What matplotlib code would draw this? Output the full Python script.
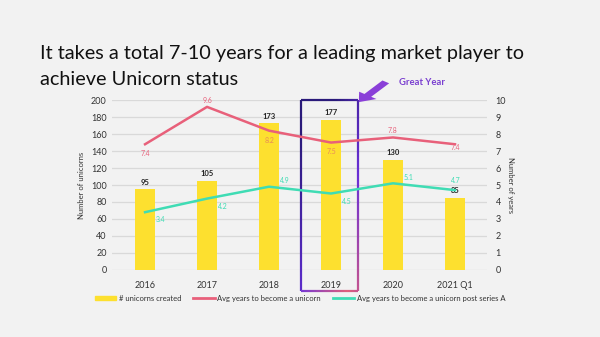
import numpy as np
import matplotlib.pyplot as plt
from matplotlib.collections import LineCollection
from matplotlib.colors import LinearSegmentedColormap
from matplotlib.lines import Line2D
from matplotlib.patches import Patch, FancyArrow

years = ["2016", "2017", "2018", "2019", "2020", "2021 Q1"]
unicorns = [95, 105, 173, 177, 130, 85]
avg_years = [7.4, 9.6, 8.2, 7.5, 7.8, 7.4]
avg_years_post_a = [3.4, 4.2, 4.9, 4.5, 5.1, 4.7]

bg = "#f2f2f2"
yellow = "#fde02f"
red = "#e8607a"
teal = "#3fdcb4"
grid_c = "#d9d9d9"
txt = "#333333"

plt.rcParams["font.family"] = ["Lato", "DejaVu Sans"]

fig = plt.figure(figsize=(6, 3.37), dpi=100, facecolor=bg)
ax = fig.add_axes([0.187, 0.199, 0.625, 0.504], facecolor=bg)
ax2 = ax.twinx()

x = np.arange(len(years))
ax.bar(x, unicorns, width=0.33, color=yellow, zorder=2)
for xi, v in zip(x, unicorns):
    ax.text(xi, v + 4, str(v), ha="center", va="bottom", fontsize=5.5,
            fontweight="bold", color="#222222")

ax.set_xlim(-0.53, 5.52)
ax.set_ylim(0, 200)
ax.set_yticks(range(0, 201, 20))
ax.set_xticks(x)
ax.set_xticklabels(years)
ax.yaxis.grid(True, color=grid_c, lw=0.9, zorder=0)
ax.set_axisbelow(True)
for s in ax.spines.values():
    s.set_visible(False)
for s in ax2.spines.values():
    s.set_visible(False)
ax.tick_params(length=0, labelsize=6.5, colors=txt, pad=4)
ax.tick_params(axis="x", pad=8)
ax.set_ylabel("Number of unicorns", fontsize=5.5, color=txt, labelpad=4)

ax2.plot(x, avg_years, color=red, lw=1.8, zorder=3)
ax2.plot(x, avg_years_post_a, color=teal, lw=1.8, zorder=3)
ax2.set_ylim(0, 10)
ax2.set_yticks(range(0, 11))
ax2.tick_params(length=0, labelsize=6.5, colors=txt, pad=6)
ax2.set_ylabel("Number of years", fontsize=5.5, color=txt, rotation=-90,
               labelpad=6)

red_off = [(0, -0.55), (0, 0.4), (0, -0.55), (0, -0.55), (0, 0.4), (0, -0.2)]
for xi, v, (dx, dy) in zip(x, avg_years, red_off):
    c = "#e88a5a" if xi in (2, 3) else red
    ax2.text(xi + dx, v + dy, f"{v}", ha="center", va="center",
             fontsize=5, color=c)
teal_off = [(0.25, -0.45), (0.25, -0.45), (0.25, 0.35), (0.25, -0.45),
            (0.25, 0.35), (0.02, 0.55)]
for xi, v, (dx, dy) in zip(x, avg_years_post_a, teal_off):
    ax2.text(xi + dx, v + dy, f"{v}", ha="center", va="center",
             fontsize=5, color=teal)

# gradient highlight box around 2019
x0, x1, y0, y1 = 2.52, 3.44, -24.5, 200
path = [(x0, y0), (x0, y1), (x1, y1), (x1, y0), (x0, y0)]
pts = []
for (ax_, ay_), (bx_, by_) in zip(path[:-1], path[1:]):
    for t in np.linspace(0, 1, 40, endpoint=False):
        pts.append((ax_ + (bx_ - ax_) * t, ay_ + (by_ - ay_) * t))
pts.append(path[-1])
pts = np.array(pts)
segs = np.stack([pts[:-1], pts[1:]], axis=1)
cmap = LinearSegmentedColormap.from_list("g", ["#5b2bc9", "#2a1a7a", "#2a1a7a",
                                               "#6a2fd6", "#e0607a", "#7a3ad0"])
lc = LineCollection(segs, cmap=cmap, linewidths=1.6, clip_on=False, zorder=5)
lc.set_array(np.linspace(0, 1, len(segs)))
ax.add_collection(lc)

# arrow and annotation
arr = FancyArrow(0.643, 0.757, -0.03, -0.04, width=0.014, head_width=0.036,
                 head_length=0.025, transform=fig.transFigure,
                 color="#8a3fd8", lw=0)
fig.patches.append(arr)
fig.text(0.665, 0.755, "Great Year", fontsize=6.8, color="#7a3fd0",
         fontweight="bold", va="center")

fig.text(0.067, 0.842, "It takes a total 7-10 years for a leading market player to",
         fontsize=14.3, color="#111111", va="center")
fig.text(0.067, 0.765, "achieve Unicorn status", fontsize=14.3,
         color="#111111", va="center")

handles = [Patch(color=yellow), Line2D([], [], color=red, lw=2),
           Line2D([], [], color=teal, lw=2)]
labels = ["# unicorns created", "Avg years to become a unicorn",
          "Avg years to become a unicorn post series A"]
fig.legend(handles, labels, loc="center", bbox_to_anchor=(0.5, 0.115),
           ncol=3, frameon=False, fontsize=5.5, handlelength=2.8,
           handleheight=0.6, columnspacing=1.6, handletextpad=0.3,
           labelcolor=txt)

fig.savefig("out.png", dpi=100, facecolor=bg)
